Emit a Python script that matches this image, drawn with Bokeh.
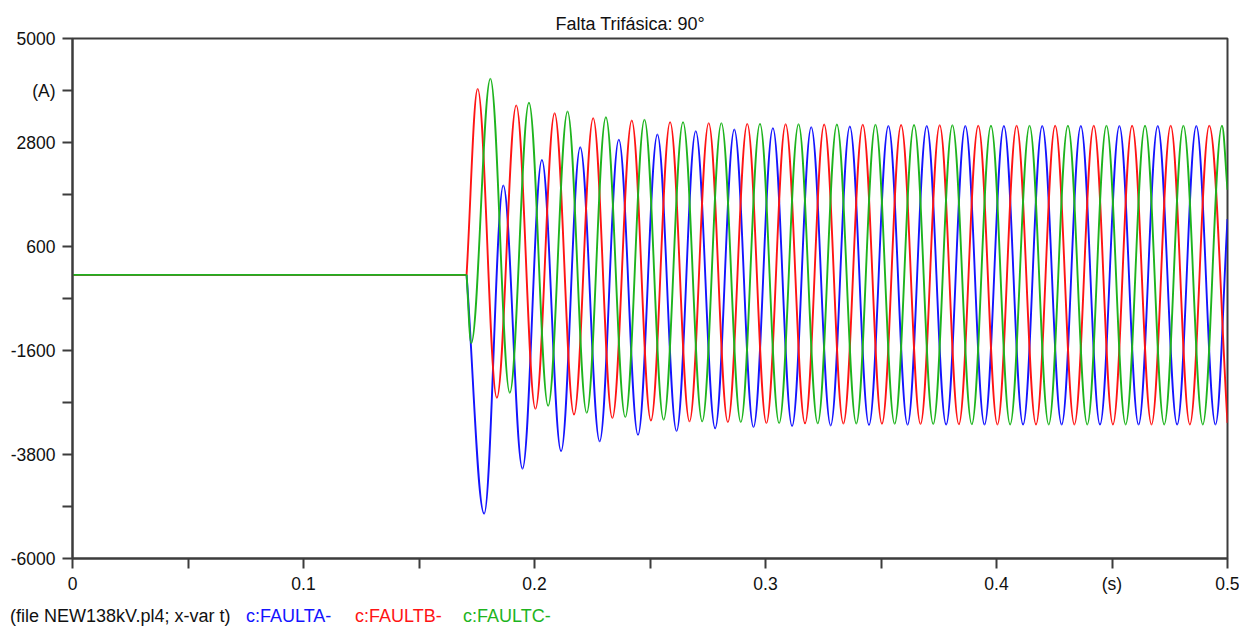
import numpy as np
from bokeh.plotting import figure
from bokeh.layouts import column
from bokeh.models import Range1d, FixedTicker, CustomJSTickFormatter, ColumnDataSource, Div
from bokeh.embed import file_html
from bokeh.resources import INLINE

# ---------------- data ----------------
title_text = "Falta Trifásica: 90°"
file_note = "(file NEW138kV.pl4; x-var t)"
series_names = ["c:FAULTA-", "c:FAULTB-", "c:FAULTC-"]
series_colors = ["#1414FF", "#FF1414", "#1EB41E"]

y_ticks = [-6000, -4900, -3800, -2700, -1600, -500, 600, 1700, 2800, 3900, 5000]
y_tick_labels = ["-6000", "", "-3800", "", "-1600", "", "600", "", "2800", "(A)", "5000"]
x_ticks = [0.0, 0.05, 0.1, 0.15, 0.2, 0.25, 0.3, 0.35, 0.4, 0.45, 0.5]
x_tick_labels = ["0", "", "0.1", "", "0.2", "", "0.3", "", "0.4", "(s)", "0.5"]

# pre-fault (all three currents are zero)
prefault_t = [0.0, 0.1706]
prefault_i = [0.0, 0.0]

# FAULTA: onset, successive extrema (troughs/peaks), value at end of window
t_a = [0.1706, 0.1782, 0.1865, 0.1948, 0.2032, 0.2115, 0.2198, 0.2282, 0.2365,
       0.2448, 0.2532, 0.2615, 0.2698, 0.2782, 0.2865, 0.2948, 0.3032, 0.3115,
       0.3198, 0.3282, 0.3365, 0.3448, 0.3532, 0.3615, 0.3698, 0.3782, 0.3865,
       0.3948, 0.4032, 0.4115, 0.4198, 0.4282, 0.4365, 0.4448, 0.4532, 0.4615,
       0.4698, 0.4782, 0.4865, 0.4948, 0.5]
i_a = [0, -5050, 1890, -4100, 2430, -3730, 2700, -3520, 2860,
       -3385, 2970, -3305, 3040, -3245, 3075, -3220, 3105, -3200,
       3125, -3185, 3140, -3175, 3150, -3170, 3150, -3165, 3150,
       -3165, 3150, -3165, 3150, -3165, 3150, -3165, 3150, -3165,
       3150, -3165, 3150, -3165, 1180]

# FAULTB
t_b = [0.1706, 0.1754, 0.1837, 0.1921, 0.2004, 0.2087, 0.2171, 0.2254, 0.2337,
       0.2421, 0.2504, 0.2587, 0.2671, 0.2754, 0.2837, 0.2921, 0.3004, 0.3087,
       0.3171, 0.3254, 0.3337, 0.3421, 0.3504, 0.3587, 0.3671, 0.3754, 0.3837,
       0.3921, 0.4004, 0.4087, 0.4171, 0.4254, 0.4337, 0.4421, 0.4504, 0.4587,
       0.4671, 0.4754, 0.4837, 0.4921, 0.5]
i_b = [0, 3935, -2600, 3585, -2835, 3420, -2955, 3315, -3030,
       3265, -3080, 3230, -3100, 3210, -3115, 3195, -3137, 3185,
       -3140, 3180, -3145, 3175, -3150, 3170, -3155, 3165, -3160,
       3155, -3165, 3155, -3165, 3155, -3165, 3155, -3165, 3155,
       -3165, 3155, -3165, 3155, -3130]

# FAULTC
t_c = [0.1706, 0.1726, 0.1809, 0.1893, 0.1976, 0.2059, 0.2143, 0.2226, 0.2309,
       0.2393, 0.2476, 0.2559, 0.2643, 0.2726, 0.2809, 0.2893, 0.2976, 0.3059,
       0.3143, 0.3226, 0.3309, 0.3393, 0.3476, 0.3559, 0.3643, 0.3726, 0.3809,
       0.3893, 0.3976, 0.4059, 0.4143, 0.4226, 0.4309, 0.4393, 0.4476, 0.4559,
       0.4643, 0.4726, 0.4809, 0.4893, 0.4976, 0.5]
i_c = [0, -1445, 4150, -2495, 3640, -2770, 3455, -2920, 3335,
       -3010, 3280, -3065, 3230, -3100, 3210, -3115, 3195, -3137,
       3185, -3140, 3180, -3145, 3175, -3150, 3170, -3155, 3165,
       -3160, 3155, -3165, 3155, -3165, 3155, -3165, 3155, -3165,
       3155, -3165, 3155, -3165, 3155, 1800]

# ---------------- main figure ----------------
FONT = "Liberation Sans"
TEXT = "#111111"
AXC = "#3c3c3c"

p = figure(frame_width=1155, frame_height=520,
           x_range=Range1d(0, 0.5), y_range=Range1d(-6000, 5000),
           output_backend="svg", toolbar_location=None,
           min_border_left=72, min_border_right=12,
           min_border_top=38, min_border_bottom=42,
           title=title_text)
p.title.align = "left"
p.title.offset = 483
p.title.standoff = 9
p.title.text_font = FONT
p.title.text_font_size = "18px"
p.title.text_font_style = "normal"
p.title.text_color = TEXT

p.xgrid.visible = False
p.ygrid.visible = False
p.outline_line_color = AXC
p.outline_line_width = 2
p.background_fill_color = "white"
p.border_fill_color = "white"

fmt_code = """
let best = 0, bd = Infinity;
for (let j = 0; j < tick_vals.length; j++) {
  const d = Math.abs(tick_vals[j] - tick);
  if (d < bd) { bd = d; best = j; }
}
return tick_text[best];
"""
p.yaxis.ticker = FixedTicker(ticks=y_ticks)
p.yaxis.formatter = CustomJSTickFormatter(args=dict(tick_vals=y_ticks, tick_text=y_tick_labels), code=fmt_code)
p.xaxis.ticker = FixedTicker(ticks=x_ticks)
p.xaxis.formatter = CustomJSTickFormatter(args=dict(tick_vals=x_ticks, tick_text=x_tick_labels), code=fmt_code)

for ax in (p.xaxis, p.yaxis):
    ax.axis_line_color = AXC
    ax.axis_line_width = 2
    ax.major_tick_line_color = AXC
    ax.major_tick_line_width = 2
    ax.major_tick_out = 10
    ax.major_tick_in = 0
    ax.minor_tick_line_color = None
    ax.major_label_text_font = FONT
    ax.major_label_text_font_size = "17.5px"
    ax.major_label_text_color = TEXT
p.yaxis.major_label_standoff = 7
p.xaxis.major_label_standoff = 5

# ---------------- curves ----------------
K = 0.3634  # control-point fraction giving a sinusoid-like half wave


def half_wave_source(t, i):
    t = np.asarray(t, float)
    i = np.asarray(i, float)
    x0, x1 = t[:-1], t[1:]
    y0, y1 = i[:-1], i[1:]
    dx = x1 - x0
    dy = y1 - y0
    cy0 = y0.copy()
    cy1 = y1.copy()
    cy0[0] = y0[0] + K * dy[0]      # leaves the onset along the chord
    cy1[-1] = y1[-1] - K * dy[-1]   # window end is not an extremum
    return ColumnDataSource(dict(x0=x0, y0=y0, x1=x1, y1=y1,
                                 cx0=x0 + K * dx, cy0=cy0,
                                 cx1=x1 - K * dx, cy1=cy1))


for (t, i), color in zip([(t_a, i_a), (t_b, i_b), (t_c, i_c)], series_colors):
    p.line(prefault_t, prefault_i, line_color=color, line_width=1.9)
    p.bezier(x0="x0", y0="y0", x1="x1", y1="y1", cx0="cx0", cy0="cy0",
             cx1="cx1", cy1="cy1", source=half_wave_source(t, i),
             line_color=color, line_width=1.9)

# ---------------- footer row (file note + series names) ----------------
span_style = ("position:absolute;top:7px;line-height:18px;white-space:pre;"
              f"font-family:'{FONT}';font-size:18px;")
spans = [f'<span style="{span_style}left:10px;color:{TEXT};">{file_note}</span>']
for name, color, xs in zip(series_names, series_colors, [246, 355, 463]):
    spans.append(f'<span style="{span_style}left:{xs}px;color:{color};">{name}</span>')
footer = Div(text='<div style="position:relative;width:1239px;height:28px;margin:0;padding:0;">'
                  + "".join(spans) + "</div>",
             width=1239, height=28, margin=0)

layout = column(p, footer, spacing=0)
open("out.html", "w").write(file_html(layout, INLINE))
